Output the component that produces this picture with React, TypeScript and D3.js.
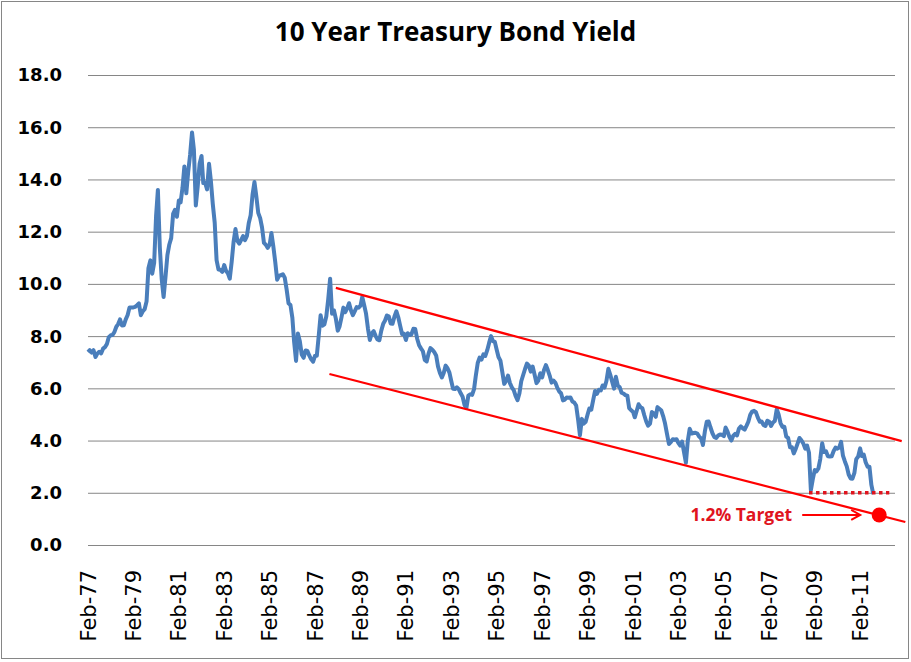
import { useEffect, useRef } from 'react';
import * as d3 from 'd3';

// monthly 10y yields (%), first value is Feb-77
const firstMonth = '1977-02-01';
const yields1977to1986 = [
  7.39, 7.46, 7.37, 7.46, 7.2, 7.33, 7.4, 7.34, 7.52, 7.58, 7.69,
  7.96, 8.03, 8.04, 8.15, 8.35, 8.46, 8.64, 8.41, 8.42, 8.64, 8.81, 9.1,
  9.1, 9.1, 9.12, 9.18, 9.25, 8.8, 8.95, 9.03, 9.33, 10.6, 10.9, 10.39,
  10.8, 12.6, 13.6, 11.4, 10.2, 9.5, 10.25, 11.1, 11.51, 11.75, 12.68, 12.84,
  12.57, 13.19, 13.12, 13.68, 14.5, 13.47, 14.28, 14.94, 15.8, 15.15, 13.0, 13.72,
  14.6, 14.9, 13.86, 13.87, 13.62, 14.6, 13.95, 13.06, 12.34, 10.91, 10.55, 10.54,
  10.46, 10.72, 10.51, 10.4, 10.2, 10.85, 11.6, 12.1, 11.65, 11.54, 11.69, 11.83,
  11.67, 11.84, 12.32, 12.63, 13.41, 13.9, 13.36, 12.72, 12.52, 12.16, 11.57, 11.5,
  11.38, 11.51, 11.95, 11.43, 10.85, 10.16, 10.31, 10.33, 10.37, 10.24, 9.78, 9.26,
  9.19, 8.7, 7.78, 7.05, 8.1, 7.8, 7.3, 7.17, 7.45, 7.43, 7.25, 7.11,
];
const yields1987to1996 = [
  7.02, 7.25, 7.25, 8.02, 8.8, 8.4, 8.45, 8.76, 9.42, 10.2, 8.86, 8.99,
  8.67, 8.21, 8.37, 8.72, 9.09, 8.92, 9.06, 9.26, 8.98, 8.8, 8.96, 9.11,
  9.09, 9.17, 9.5, 9.18, 8.86, 8.28, 7.85, 8.11, 8.19, 8.01, 7.87, 7.84,
  8.21, 8.47, 8.59, 8.79, 8.76, 8.48, 8.47, 8.75, 8.95, 8.72, 8.39, 8.08,
  8.09, 7.85, 8.11, 8.04, 8.07, 8.28, 8.27, 7.9, 7.65, 7.53, 7.42, 7.09,
  7.03, 7.34, 7.54, 7.48, 7.39, 7.26, 6.84, 6.59, 6.42, 6.59, 6.87, 6.77,
  6.6, 6.26, 5.98, 5.97, 6.04, 5.96, 5.81, 5.68, 5.36, 5.25, 5.72, 5.77,
  5.75, 5.97, 6.48, 6.97, 7.18, 7.1, 7.3, 7.24, 7.46, 7.74, 8.0, 7.81,
  7.78, 7.47, 7.2, 7.06, 6.63, 6.17, 6.28, 6.49, 6.2, 6.04, 5.93, 5.71,
  5.55, 5.81, 6.27, 6.51, 6.74, 6.95, 6.87, 6.64, 6.83, 6.53, 6.2, 6.3,
];
const yields1997to2006 = [
  6.58, 6.42, 6.69, 6.89, 6.71, 6.49, 6.22, 6.3, 6.21, 6.03, 5.88, 5.81,
  5.54, 5.57, 5.65, 5.64, 5.65, 5.5, 5.46, 5.34, 4.81, 4.2, 4.83, 4.65,
  4.72, 5.0, 5.23, 5.18, 5.54, 5.9, 5.79, 5.94, 5.92, 6.11, 6.03, 6.28,
  6.75, 6.52, 6.26, 5.99, 6.44, 6.1, 6.05, 5.83, 5.8, 5.74, 5.72, 5.24,
  5.16, 5.1, 4.89, 5.14, 5.39, 5.28, 5.24, 4.97, 4.73, 4.57, 4.65, 5.09,
  5.04, 4.91, 5.28, 5.21, 5.16, 4.93, 4.65, 4.26, 3.87, 3.94, 4.05, 4.03,
  4.05, 3.9, 3.81, 3.96, 3.57, 3.15, 3.98, 4.45, 4.27, 4.29, 4.3, 4.27,
  4.15, 4.08, 3.83, 4.35, 4.72, 4.73, 4.5, 4.28, 4.13, 4.1, 4.19, 4.23,
  4.22, 4.17, 4.5, 4.34, 4.14, 4.0, 4.18, 4.26, 4.2, 4.46, 4.54, 4.47,
  4.42, 4.57, 4.72, 4.99, 5.11, 5.14, 5.09, 4.88, 4.72, 4.73, 4.6, 4.56,
];
const yields2007to2011 = [
  4.76, 4.72, 4.56, 4.69, 4.75, 5.2, 5.0, 4.67, 4.52, 4.53, 4.15, 4.1,
  3.74, 3.74, 3.51, 3.68, 3.88, 4.1, 4.01, 3.89, 3.69, 3.81, 3.53, 2.1,
  2.52, 2.87, 2.82, 2.93, 3.29, 3.9, 3.56, 3.59, 3.4, 3.39, 3.4, 3.59,
  3.73, 3.69, 3.73, 3.95, 3.42, 3.2, 3.01, 2.7, 2.55, 2.54, 2.76, 3.29,
  3.39, 3.7, 3.41, 3.46, 3.17, 3.0, 3.0, 2.3, 1.95,
];

const yTicks = [0, 2, 4, 6, 8, 10, 12, 14, 16, 18];
const xTickLabels = [
  'Feb-77', 'Feb-79', 'Feb-81', 'Feb-83', 'Feb-85', 'Feb-87', 'Feb-89', 'Feb-91', 'Feb-93',
  'Feb-95', 'Feb-97', 'Feb-99', 'Feb-01', 'Feb-03', 'Feb-05', 'Feb-07', 'Feb-09', 'Feb-11',
];
const xDomain = ['1977-02-01', '2012-08-15'];

// hand drawn channel + target annotation
const upperChannel = [{ date: '1988-01-01', value: 9.85 }, { date: '2012-12-01', value: 3.98 }];
const lowerChannel = [{ date: '1987-09-20', value: 6.55 }, { date: '2013-01-28', value: 0.88 }];
const floorLine = [{ date: '2008-11-01', value: 2.0 }, { date: '2012-05-15', value: 2.0 }];
const target = { date: '2011-12-05', value: 1.15, label: '1.2% Target' };

type Point = { date: Date; value: number };

export default function App() {
  const svgRef = useRef<SVGSVGElement>(null);

  useEffect(() => {
    if (!svgRef.current) return;
    const svg = d3.select(svgRef.current);
    svg.selectAll('*').remove();

    const W = 911;
    const H = 662;
    const plot = { left: 88, right: 895, top: 75, bottom: 545 };
    const parseDay = d3.timeParse('%Y-%m-%d');
    const parseTick = d3.timeParse('%b-%y');

    svg.attr('width', W).attr('height', H);

    svg.append('rect')
      .attr('x', 1.5).attr('y', 1.5)
      .attr('width', W - 4).attr('height', H - 5)
      .attr('fill', '#ffffff')
      .attr('stroke', '#868686')
      .attr('stroke-width', 1);

    const x = d3.scaleTime()
      .domain(xDomain.map(d => parseDay(d) as Date))
      .range([plot.left, plot.right]);
    const y = d3.scaleLinear()
      .domain([0, 18])
      .range([plot.bottom, plot.top]);

    const start = parseDay(firstMonth) as Date;
    const series: Point[] = [...yields1977to1986, ...yields1987to1996, ...yields1997to2006, ...yields2007to2011]
      .map((v, i) => ({ date: d3.timeMonth.offset(start, i), value: v }));

    // gridlines
    svg.append('g')
      .selectAll('line')
      .data(yTicks)
      .enter().append('line')
      .attr('x1', plot.left).attr('x2', plot.right)
      .attr('y1', d => y(d) + 0.5).attr('y2', d => y(d) + 0.5)
      .attr('stroke', '#868686')
      .attr('stroke-width', 1);

    // y labels
    svg.append('g')
      .selectAll('text')
      .data(yTicks)
      .enter().append('text')
      .attr('x', 62)
      .attr('y', d => y(d))
      .attr('dy', '0.36em')
      .attr('text-anchor', 'end')
      .style('font-family', '"DejaVu Sans", sans-serif')
      .style('font-weight', 'bold')
      .style('font-size', '18px')
      .text(d => d.toFixed(1));

    // x labels
    svg.append('g')
      .selectAll('text')
      .data(xTickLabels)
      .enter().append('text')
      .attr('transform', d => `translate(${x(parseTick(d) as Date)},570) rotate(-90)`)
      .attr('dy', '0.36em')
      .attr('text-anchor', 'end')
      .style('font-family', '"DejaVu Sans", sans-serif')
      .style('font-size', '21px')
      .text(d => d);

    // title
    svg.append('text')
      .attr('x', W / 2)
      .attr('y', 41)
      .attr('text-anchor', 'middle')
      .style('font-family', '"Open Sans", sans-serif')
      .style('font-weight', 'bold')
      .style('font-size', '26px')
      .text('10 Year Treasury Bond Yield');

    const line = d3.line<Point>()
      .x(d => x(d.date))
      .y(d => y(d.value));

    svg.append('path')
      .datum(series)
      .attr('fill', 'none')
      .attr('stroke', '#4A7EBB')
      .attr('stroke-width', 4)
      .attr('stroke-linejoin', 'round')
      .attr('d', line);

    const toPoints = (arr: { date: string; value: number }[]) =>
      arr.map(d => ({ date: parseDay(d.date) as Date, value: d.value }));

    [upperChannel, lowerChannel].forEach(ch => {
      svg.append('path')
        .datum(toPoints(ch))
        .attr('fill', 'none')
        .attr('stroke', '#FF0000')
        .attr('stroke-width', 2.25)
        .attr('d', line);
    });

    svg.append('path')
      .datum(toPoints(floorLine))
      .attr('fill', 'none')
      .attr('stroke', '#E0141E')
      .attr('stroke-width', 3.5)
      .attr('stroke-dasharray', '3.5,3.5')
      .attr('d', line);

    const tx = x(parseDay(target.date) as Date);
    const ty = y(target.value);

    svg.append('circle')
      .attr('cx', tx).attr('cy', ty)
      .attr('r', 7.5)
      .attr('fill', '#FF0000');

    // arrow pointing at the dot
    const ax0 = tx - 77;
    const ax1 = tx - 19;
    const arrow = svg.append('g')
      .attr('stroke', '#FF0000')
      .attr('stroke-width', 2)
      .attr('fill', 'none');
    arrow.append('line').attr('x1', ax0).attr('y1', ty).attr('x2', ax1).attr('y2', ty);
    arrow.append('path').attr('d', `M${ax1 - 9},${ty - 5}L${ax1},${ty}L${ax1 - 9},${ty + 5}`);

    svg.append('text')
      .attr('x', ax0 - 10)
      .attr('y', ty)
      .attr('dy', '0.35em')
      .attr('text-anchor', 'end')
      .attr('fill', '#E0141E')
      .style('font-family', '"Open Sans", sans-serif')
      .style('font-weight', 'bold')
      .style('font-size', '17.5px')
      .text(target.label);
  }, []);

  return (
    <div style={{ position: 'absolute', left: 0, top: 0 }}>
      <svg ref={svgRef}></svg>
    </div>
  );
}
